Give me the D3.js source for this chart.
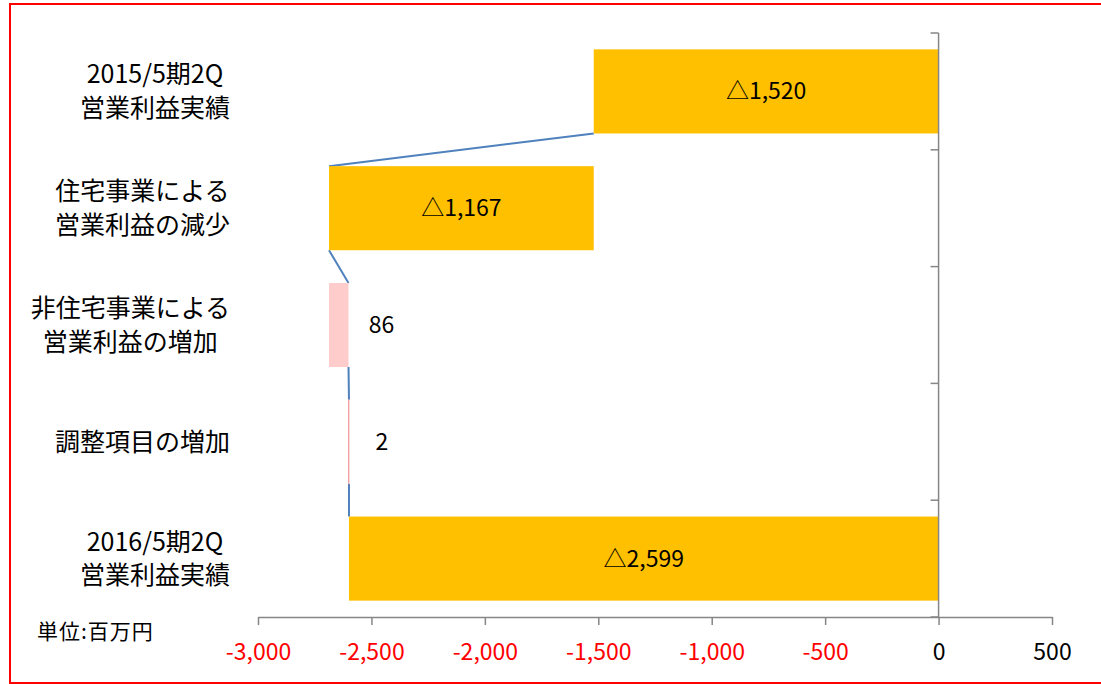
<!DOCTYPE html>
<html><head><meta charset="utf-8">
<script src="https://cdn.jsdelivr.net/npm/d3@7"></script>
<style>
html,body{margin:0;padding:0;background:#fff;}
svg text{font-family:"Noto Sans CJK JP","Noto Sans",sans-serif;}
</style></head>
<body><svg id="c" width="1101" height="684"></svg>
<script>
const categories = ["2015/5期2Q\n営業利益実績","住宅事業による\n営業利益の減少","非住宅事業による\n営業利益の増加","調整項目の増加","2016/5期2Q\n営業利益実績"];
const values = [-1520, -1167, 86, 2, -2599];
const kinds = ["total","delta","delta","delta","total"];
const tickValues = [-3000,-2500,-2000,-1500,-1000,-500,0,500];
const unitLabel = "単位:百万円";

const svg = d3.select("#c");
svg.append("rect").attr("x",10).attr("y",4).attr("width",1100).attr("height",679)
  .attr("fill","none").attr("stroke","#ff0000").attr("stroke-width",2);

const x = d3.scaleLinear().domain([-3000,500]).range([258,1052]);
const y = d3.scaleBand().domain(categories).range([33,617]).paddingInner(0.28).paddingOuter(0.14);

let cum = 0;
const bars = categories.map((c,i)=>{
  let s,e;
  if(kinds[i]==="total"){ s=0; e=values[i]; cum=values[i]; }
  else { s=cum; e=cum+values[i]; cum=e; }
  return {c, v:values[i], s, e, kind:kinds[i], i};
});

const colors = ["#FFC000","#FFC000","#FFCCCC","#FFCCCC","#FFC000"];

const g = svg.append("g");
for(let i=0;i<bars.length-1;i++){
  const a=bars[i], b=bars[i+1];
  g.append("line")
    .attr("x1",x(a.e)).attr("y1",y(a.c)+y.bandwidth())
    .attr("x2",x(b.e)).attr("y2",y(b.c))
    .attr("stroke","#4F81BD").attr("stroke-width",2);
}

g.selectAll("rect.bar").data(bars).join("rect").attr("class","bar")
  .attr("x",d=>x(Math.min(d.s,d.e)))
  .attr("width",d=>Math.abs(x(d.e)-x(d.s)))
  .attr("y",d=>y(d.c)).attr("height",y.bandwidth())
  .attr("fill",d=>colors[d.i])
  .attr("stroke",d=>Math.abs(x(d.e)-x(d.s))<2?"#F0A0A0":"none")
  .attr("stroke-width",0.8);

const fmtAbs = d3.format(",");
const lab = d => d<0 ? "△"+fmtAbs(-d) : fmtAbs(d);
g.selectAll("text.dl").data(bars).join("text").attr("class","dl")
  .attr("x",d=> d.kind==="total"||d.v<-100 ? (x(d.s)+x(d.e))/2 : x(Math.max(d.s,d.e))+33)
  .attr("y",d=>y(d.c)+y.bandwidth()/2)
  .attr("dy","0.35em").attr("text-anchor","middle")
  .attr("font-size",23).attr("fill","#000")
  .text(d=>lab(d.v));

const ax = svg.append("g").attr("transform","translate(0,617)")
  .call(d3.axisBottom(x).tickValues(tickValues).tickSize(8).tickSizeOuter(0)
    .tickFormat(d=>(d<0?"-":"")+fmtAbs(Math.abs(d))));
ax.select(".domain").attr("stroke","#868686").attr("stroke-width",1.5);
ax.selectAll(".tick line").attr("stroke","#868686").attr("stroke-width",1.5);
ax.selectAll(".tick text").attr("font-size",23).attr("y",35).attr("dy","0.35em")
  .attr("fill",d=>d<0?"#ff0000":"#000")
  .style("font-family",'"Noto Sans CJK JP","Noto Sans",sans-serif');

const x0 = x(0);
svg.append("line").attr("x1",x0).attr("x2",x0).attr("y1",33).attr("y2",617)
  .attr("stroke","#868686").attr("stroke-width",1.5);
const bounds = categories.map(c=>y(c)-y.step()*y.paddingInner()/2).concat([617]);
bounds[0]=33;
svg.selectAll("line.yt").data(bounds).join("line").attr("class","yt")
  .attr("x1",x0-8).attr("x2",x0).attr("y1",d=>d).attr("y2",d=>d)
  .attr("stroke","#868686").attr("stroke-width",1.5);

categories.forEach(c=>{
  const lines = c.split("\n");
  const cy = y(c)+y.bandwidth()/2;
  const n = lines.length;
  const texts = lines.map((l,k)=>svg.append("text").attr("font-size",25).attr("fill","#000")
    .attr("text-anchor","middle").attr("y",cy+(k-(n-1)/2)*33.5).attr("dy","0.35em").text(l));
  const w = d3.max(texts,s=>s.node().getComputedTextLength());
  texts.forEach(s=>s.attr("x",230-w/2));
});

svg.append("text").attr("x",37).attr("y",632).attr("dy","0.35em").attr("font-size",21)
  .attr("letter-spacing",1).attr("fill","#000").text(unitLabel);
</script></body></html>
